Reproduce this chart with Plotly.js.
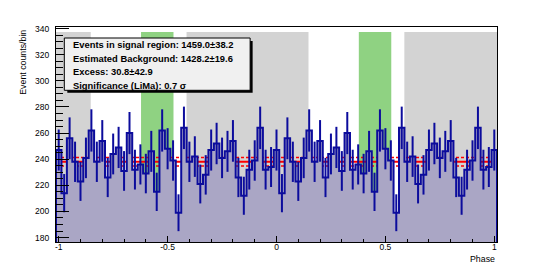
<!DOCTYPE html>
<html><head><meta charset="utf-8">
<script src="https://cdn.plot.ly/plotly-3.0.1.min.js"></script>
<style>html,body{margin:0;padding:0;background:#fff;}</style>
</head><body><div id="chart" style="width:552px;height:269px;"></div>
<script>
// One phase cycle (40 bins of 0.025), the phaseogram is shown twice (-1..1)
const cycleCounts = [247, 214, 256, 238, 223, 241, 262, 238, 254, 226,
                     244, 249, 231, 260, 232, 236, 229, 246, 215, 262,
                     248, 239, 199, 264, 238, 242, 221, 228, 247, 252,
                     241, 246, 254, 226, 212, 232, 239, 264, 232, 234];
const binWidth = 0.025;
const phaseMin = -1, phaseMax = 1;
const signalRegion = [0.378, 0.527];
const backgroundRegion = [0.587, 1.147];
const xTickVals = [-1, -0.5, 0, 0.5, 1];
const xTickText = ['-1', '-0.5', '0', '0.5', '1'];
const sigEvents = 1459.0, sigErr = 38.2;
const bkgEvents = 1428.2, bkgErr = 19.6;
const excess = 30.8, excessErr = 42.9;
const significance = 0.7;
const nSignalBins = 6;

// build histogram from the data
const centers = [], values = [];
for (let j = 0; ; j++) {
  const c = phaseMin + j * binWidth;
  if (c > phaseMax + 1e-9) break;
  centers.push(c);
  values.push(cycleCounts[j % cycleCounts.length]);
}
const lowEdge = centers[0] - binWidth / 2;
const highEdge = centers[centers.length - 1] + binWidth / 2;
const yMin = 176.6, yMax = 341.2;
const base = 100;
const hx = [lowEdge], hy = [base];
centers.forEach((c, i) => { hx.push(c - binWidth / 2); hy.push(values[i]); });
hx.push(highEdge); hy.push(values[values.length - 1]);
hx.push(highEdge); hy.push(base);

const ex = [], ey = [];
centers.forEach((c, i) => {
  const e = Math.sqrt(values[i]);
  ex.push(c, c, null); ey.push(values[i] - e, values[i] + e, null);
});

const bkgPerBin = bkgEvents / nSignalBins;
const bkgPerBinErr = bkgErr / nSignalBins;

// pixel helpers for decorations
const W = 552, H = 269;
const mL = 56, mR = 55.3, mT = 26.7, mB = 27.3;
const pw = W - mL - mR, ph = H - mT - mB;
const PX = p => (p - mL) / pw;
const PY = p => (H - mB - p) / ph;

// region bands (wrapped into the shown phase range)
const shapes = [];
const bandTop = 337.3;
function addBand(r, color) {
  for (let s = -3; s <= 3; s++) {
    const a = Math.max(r[0] + s, lowEdge), b = Math.min(r[1] + s, highEdge);
    if (b > a) shapes.push({type: 'rect', xref: 'x', yref: 'y', x0: a, x1: b, y0: yMin - 5, y1: bandTop,
      fillcolor: color, line: {width: 0}, layer: 'below'});
  }
}
addBand(backgroundRegion, '#d3d3d3');
addBand(signalRegion, '#8fd282');

// stats box
const bx0 = 64.3, by0 = 37.7, bx1 = 250, by1 = 90;
shapes.push({type: 'rect', xref: 'paper', yref: 'paper', x0: PX(bx0 + 3), x1: PX(bx1 + 2.5), y0: PY(by1 + 2.5), y1: PY(by0 + 3),
  fillcolor: '#000', line: {width: 0}, layer: 'above'});
shapes.push({type: 'rect', xref: 'paper', yref: 'paper', x0: PX(bx0), x1: PX(bx1), y0: PY(by1), y1: PY(by0),
  fillcolor: '#f0f0f0', line: {color: '#000', width: 1}, layer: 'above'});

const lines = [
  'Events in signal region: ' + sigEvents.toFixed(1) + '±' + sigErr.toFixed(1),
  'Estimated Background: ' + bkgEvents.toFixed(1) + '±' + bkgErr.toFixed(1),
  'Excess: ' + excess.toFixed(1) + '±' + excessErr.toFixed(1),
  'Significance (LiMa): ' + significance.toFixed(1) + ' σ'
];
const lineY = [44.3, 58.0, 71.6, 85.0];
const annotations = lines.map((t, i) => ({
  xref: 'paper', yref: 'paper', x: PX(71.0), y: PY(lineY[i]), xanchor: 'left', yanchor: 'middle',
  text: '<b>' + t + '</b>', showarrow: false,
  font: {family: 'Liberation Sans, Arial, sans-serif', size: 9.4, color: '#000'}
}));
annotations.push({xref: 'paper', yref: 'paper', x: PX(23.5), y: PY(27.5), xanchor: 'center', yanchor: 'top',
  textangle: -90, text: 'Event counts/bin', showarrow: false,
  font: {family: 'Liberation Sans, Arial, sans-serif', size: 8.8, color: '#000'}});
annotations.push({xref: 'paper', yref: 'paper', x: PX(497), y: PY(258.5), xanchor: 'right', yanchor: 'middle',
  text: 'Phase', showarrow: false,
  font: {family: 'Liberation Sans, Arial, sans-serif', size: 8.8, color: '#000'}});

const traces = [
  {x: [lowEdge, highEdge], y: [bkgPerBin + bkgPerBinErr, bkgPerBin + bkgPerBinErr], mode: 'lines',
   line: {color: '#ff0000', width: 1.5, dash: '3px,2px'}, hoverinfo: 'skip'},
  {x: [lowEdge, highEdge], y: [bkgPerBin - bkgPerBinErr, bkgPerBin - bkgPerBinErr], mode: 'lines',
   line: {color: '#ff0000', width: 1.5, dash: '3px,2px'}, hoverinfo: 'skip'},
  {x: [lowEdge, highEdge], y: [bkgPerBin, bkgPerBin], mode: 'lines',
   line: {color: '#ff0000', width: 2}, hoverinfo: 'skip'},
  {x: hx, y: hy, mode: 'lines', line: {shape: 'hv', color: '#0c0c9c', width: 2},
   fill: 'toself', fillcolor: '#aaa6c5', hoverinfo: 'skip'},
  {x: ex, y: ey, mode: 'lines', line: {color: '#0c0c9c', width: 2}, hoverinfo: 'skip', connectgaps: false}
];

const layout = {
  width: W, height: H, showlegend: false,
  margin: {l: mL, r: mR, t: mT, b: mB, pad: 0},
  paper_bgcolor: '#fff', plot_bgcolor: '#fff',
  font: {family: 'Liberation Sans, Arial, sans-serif', size: 8.5, color: '#000'},
  xaxis: {range: [lowEdge, highEdge], tickmode: 'array', tickvals: xTickVals, ticktext: xTickText,
    ticks: 'inside', ticklen: 6, tickwidth: 1, tickcolor: '#000',
    minor: {tickmode: 'linear', tick0: 0, dtick: 0.1, ticks: 'inside', ticklen: 3, tickwidth: 1, tickcolor: '#000', showgrid: false},
    showgrid: false, zeroline: false, showline: true, mirror: true, linecolor: '#000', linewidth: 1,
    ticklabelstandoff: -3, tickfont: {size: 8.5}},
  yaxis: {range: [yMin, yMax], tickmode: 'linear', tick0: 0, dtick: 20,
    ticks: 'inside', ticklen: 13, tickwidth: 1, tickcolor: '#000',
    minor: {tickmode: 'linear', tick0: 0, dtick: 5, ticks: 'inside', ticklen: 6.5, tickwidth: 1, tickcolor: '#000', showgrid: false},
    showgrid: false, zeroline: false, showline: true, mirror: true, linecolor: '#000', linewidth: 1,
    ticklabelstandoff: 4, tickfont: {size: 8.5}},
  shapes: shapes, annotations: annotations
};
Plotly.newPlot('chart', traces, layout, {staticPlot: true, displayModeBar: false});
</script></body></html>
